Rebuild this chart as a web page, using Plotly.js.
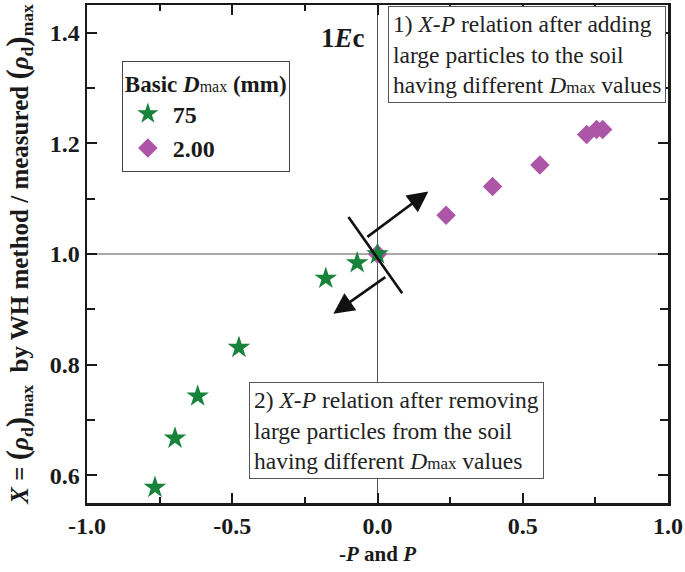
<!DOCTYPE html>
<html>
<head>
<meta charset="utf-8">
<script src="https://cdn.plot.ly/plotly-3.0.1.min.js"></script>
<style>
  html, body { margin: 0; padding: 0; background: #fff; }
  #chart { width: 685px; height: 572px; }
</style>
</head>
<body>
<div id="chart"></div>
<script>
// values (X vs -P / P)
const starX = [-0.766, -0.697, -0.619, -0.477, -0.178, -0.070, 0.0];
const starY = [0.578, 0.667, 0.743, 0.831, 0.956, 0.984, 1.0];
const diaX = [0.0, 0.236, 0.396, 0.559, 0.720, 0.754, 0.775];
const diaY = [1.0, 1.070, 1.122, 1.161, 1.216, 1.225, 1.225];
const seriesNames = ["75", "2.00"];
const xTicks = [-1.0, -0.5, 0.0, 0.5, 1.0];
const xTickText = ["-1.0", "-0.5", "0.0", "0.5", "1.0"];
const yTicks = [0.6, 0.8, 1.0, 1.2, 1.4];
const yTickText = ["0.6", "0.8", "1.0", "1.2", "1.4"];

const SERIF = "Liberation Serif, Times New Roman, serif";
const INK = "#1a1a1a";
const GREEN = "#16823a";
const PURPLE = "#ad56a8";

const data = [
  { x: diaX, y: diaY, mode: "markers", name: seriesNames[1], type: "scatter",
    marker: { symbol: "diamond", size: 15, color: PURPLE } },
  { x: starX, y: starY, mode: "markers", name: seriesNames[0], type: "scatter",
    marker: { symbol: "star", size: 17, color: GREEN } },
];

const axis = {
  showline: true, linecolor: INK, linewidth: 2.5, mirror: "ticks",
  ticks: "inside", ticklen: 10, tickwidth: 2, tickcolor: INK,
  showgrid: false, zeroline: false,
  tickfont: { family: SERIF, size: 24, color: INK, weight: "bold" },
};

const arrow = { showarrow: true, arrowhead: 2, arrowsize: 1.6, arrowwidth: 2.6,
  arrowcolor: "#111", axref: "x", ayref: "y", xref: "x", yref: "y", text: "" };

const boxFont = { family: SERIF, size: 23.5, color: "#222" };
const sub = s => "<span style='font-size:17px'>" + s + "</span>";
const big = s => "<span style='font-size:31px'>" + s + "</span>";
const rho = big("(") + "<i>ρ</i><sub>d</sub>" + big(")") + "<sub>max</sub>";

const layout = {
  width: 685, height: 572,
  paper_bgcolor: "#fff", plot_bgcolor: "#fff",
  margin: { l: 87, r: 17, t: 5, b: 69 },
  font: { family: SERIF, color: INK },
  xaxis: Object.assign({}, axis, {
    range: [-1, 1], tickvals: xTicks, ticktext: xTickText,
    minor: { dtick: 0.25, ticklen: 6, tickwidth: 2, tickcolor: INK, ticks: "inside" },
    title: { text: "-<i>P</i> and <i>P</i>", standoff: 8,
             font: { family: SERIF, size: 21, color: INK, weight: "bold" } },
  }),
  yaxis: Object.assign({}, axis, {
    range: [0.55, 1.45], tickvals: yTicks, ticktext: yTickText,
    minor: { dtick: 0.1, ticklen: 8, tickwidth: 2, tickcolor: INK, ticks: "inside" },
    title: { text: "<i>X</i> = " + rho + "  by WH method / measured " + rho,
             font: { family: SERIF, size: 25, color: INK, weight: "bold" } },
  }),
  showlegend: true,
  legend: {
    x: 0.06, y: 0.888, xanchor: "left", yanchor: "top",
    bgcolor: "#fff", bordercolor: "#444", borderwidth: 1,
    traceorder: "reversed", itemwidth: 40,
    font: { family: SERIF, size: 24, color: INK, weight: "bold" },
    title: { side: "top",
      text: "Basic <i>D</i><span style='font-size:16px;font-weight:normal'>max</span> (mm)",
      font: { family: SERIF, size: 23, color: INK, weight: "bold" } },
  },
  shapes: [
    { type: "line", xref: "x", yref: "paper", x0: 0, x1: 0, y0: 0, y1: 1,
      layer: "below", line: { color: "#555", width: 1 } },
    { type: "line", xref: "paper", yref: "y", x0: 0, x1: 1, y0: 1, y1: 1,
      layer: "below", line: { color: "#555", width: 1 } },
    { type: "line", xref: "x", yref: "y", x0: -0.100, y0: 1.067, x1: 0.085, y1: 0.929,
      line: { color: "#111", width: 2.6 } },
  ],
  annotations: [
    Object.assign({}, arrow, { ax: -0.040, ay: 1.029, x: 0.175, y: 1.113 }),
    Object.assign({}, arrow, { ax: 0.032, ay: 0.960, x: -0.152, y: 0.892 }),
    { xref: "paper", yref: "paper", x: 0.44, y: 0.934, xanchor: "center", yanchor: "middle",
      showarrow: false,
      text: "1<i>E</i>c", font: { family: SERIF, size: 27, color: INK, weight: "bold" } },
    { xref: "paper", yref: "paper", x: 0.7565, y: 0.9, xanchor: "center", yanchor: "middle",
      showarrow: false,
      align: "left", bgcolor: "#fff", bordercolor: "#555", borderwidth: 1, borderpad: 4,
      font: boxFont,
      text: "1) <i>X-P</i> relation after adding<br>large particles to the soil<br>having different <i>D</i>" + sub("max") + " values" },
    { xref: "paper", yref: "paper", x: 0.532, y: 0.1446, xanchor: "center", yanchor: "middle",
      showarrow: false,
      align: "left", bgcolor: "#fff", bordercolor: "#555", borderwidth: 1, borderpad: 4,
      font: boxFont,
      text: "2) <i>X-P</i> relation after removing<br>large particles from the soil<br>having different <i>D</i>" + sub("max") + " values" },
  ],
};

Plotly.newPlot("chart", data, layout, { displayModeBar: false, staticPlot: true });
</script>
</body>
</html>
